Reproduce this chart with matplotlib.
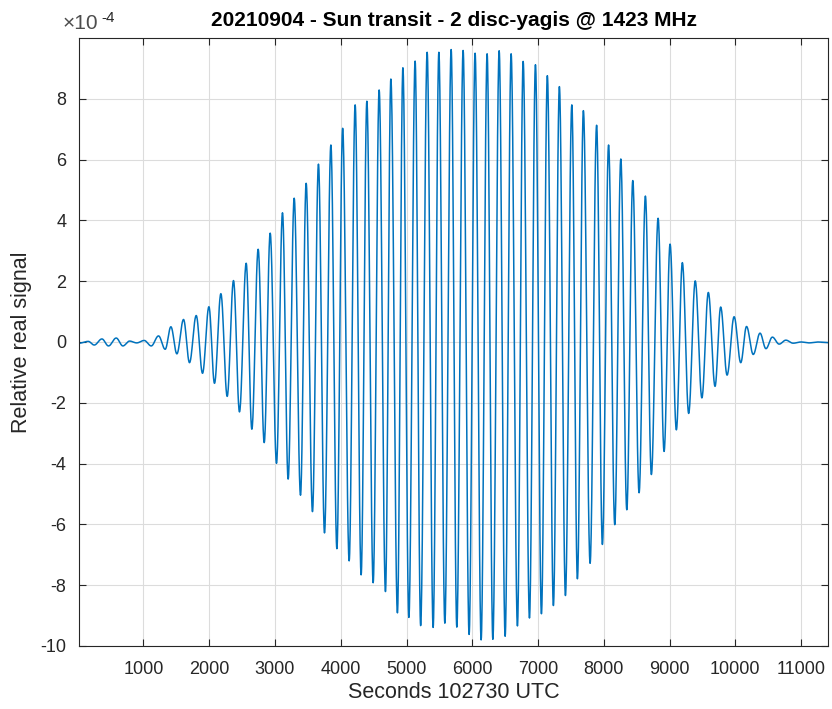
import numpy as np
import matplotlib.pyplot as plt

plt.rcParams['font.family'] = ['Liberation Sans', 'DejaVu Sans']
plt.rcParams['axes.unicode_minus'] = False

# turning points of the fringe signal: time (s after 10:27:30 UTC), amplitude (x1e-4)
t_ext = [20, 160, 251, 368, 468, 585, 687, 788, 897, 1011,
         1118, 1229, 1330, 1417, 1508, 1609, 1700, 1802, 1898, 1995,
         2080, 2177, 2273, 2369, 2460, 2562, 2648, 2744, 2836, 2927,
         3023, 3114, 3200, 3292, 3388, 3474, 3570, 3661, 3753, 3850,
         3941, 4029, 4128, 4219, 4310, 4397, 4493, 4584, 4680, 4762,
         4862, 4945, 5036, 5131, 5215, 5314, 5405, 5492, 5583, 5679,
         5765, 5861, 5952, 6043, 6135, 6226, 6313, 6409, 6500, 6591,
         6687, 6774, 6870, 6961, 7052, 7142, 7234, 7325, 7417, 7514,
         7599, 7690, 7792, 7891, 7979, 8073, 8167, 8259, 8350, 8441,
         8537, 8633, 8724, 8826, 8917, 9008, 9104, 9195, 9291, 9391,
         9492, 9590, 9692, 9778, 9875, 9982, 10083, 10171, 10273, 10376,
         10466, 10564, 10667, 10769, 10880, 11000, 11120, 11250, 11410]
sig_ext = [-0.04, 0.02, -0.10, 0.10, -0.13, 0.13, -0.13, 0.03, -0.03, 0.05,
           -0.13, 0.20, -0.24, 0.50, -0.39, 0.74, -0.68, 0.87, -1.03, 1.16,
           -1.36, 1.59, -1.79, 2.02, -2.30, 2.59, -2.87, 3.05, -3.31, 3.58,
           -3.99, 4.25, -4.51, 4.73, -5.04, 5.22, -5.58, 5.85, -6.28, 6.48,
           -6.80, 7.03, -7.20, 7.80, -7.66, 7.92, -7.92, 8.29, -8.21, 8.65,
           -8.91, 9.02, -9.06, 9.24, -9.33, 9.53, -9.39, 9.53, -9.25, 9.62,
           -9.38, 9.59, -9.62, 9.50, -9.80, 9.48, -9.78, 9.58, -9.68, 9.48,
           -9.34, 9.23, -9.08, 9.12, -8.94, 8.76, -8.67, 8.40, -8.34, 7.80,
           -7.79, 7.61, -7.28, 7.13, -6.66, 6.48, -6.01, 6.02, -5.52, 5.31,
           -4.96, 4.80, -4.36, 4.07, -3.60, 3.22, -2.89, 2.61, -2.35, 2.01,
           -1.84, 1.63, -1.46, 1.15, -1.09, 0.83, -0.68, 0.51, -0.41, 0.29,
           -0.22, 0.16, -0.07, 0.06, -0.04, 0.00, -0.03, 0.00, -0.02]

x_ticks = np.arange(1000, 12000, 1000)
y_ticks = np.arange(-10, 10, 2)


def half_waves(t, v, n=24):
    # join successive turning points with half cosine swings
    ts, vs = [], []
    u = np.linspace(0, 1, n, endpoint=False)
    for i in range(len(t) - 1):
        ts.append(t[i] + u * (t[i + 1] - t[i]))
        vs.append(v[i] + (v[i + 1] - v[i]) * (1 - np.cos(np.pi * u)) / 2)
    ts.append([t[-1]])
    vs.append([v[-1]])
    return np.concatenate(ts), np.concatenate(vs)


tt, ss = half_waves(t_ext, sig_ext)

fig = plt.figure(figsize=(8.32, 7.09), dpi=100)
ax = fig.add_axes([0.095, 0.0889, 0.9002, 0.8575])

ax.plot(tt, ss, color='#0072BD', lw=1.1)

ax.set_xlim(20, 11410)
ax.set_ylim(-10, 10)
ax.set_xticks(x_ticks)
ax.set_yticks(y_ticks)
ax.grid(True, color='#dcdcdc', lw=0.8)
ax.set_axisbelow(True)
ax.tick_params(direction='in', length=5, width=0.8, top=True, right=True,
               labelsize=13, colors='#262626')
ax.tick_params(axis='x', pad=11)
ax.tick_params(axis='y', pad=9)
for sp in ax.spines.values():
    sp.set_color('#262626')
    sp.set_linewidth(0.8)

ax.set_title('20210904 - Sun transit - 2 disc-yagis @ 1423 MHz',
             fontsize=15, fontweight='bold', pad=9)
ax.set_xlabel('Seconds 102730 UTC', fontsize=15.5, color='#262626', labelpad=3)
ax.set_ylabel('Relative real signal', fontsize=15.5, color='#262626', labelpad=6)

# axis multiplier, drawn as plain text with a raised exponent
ax.text(-0.022, 1.008, '\u00d710', transform=ax.transAxes,
        fontsize=15, color='#4d4d4d', ha='left', va='bottom')
ax.text(0.030, 1.022, '-4', transform=ax.transAxes,
        fontsize=11, color='#262626', ha='left', va='bottom')

fig.savefig('out.png', dpi=100)
